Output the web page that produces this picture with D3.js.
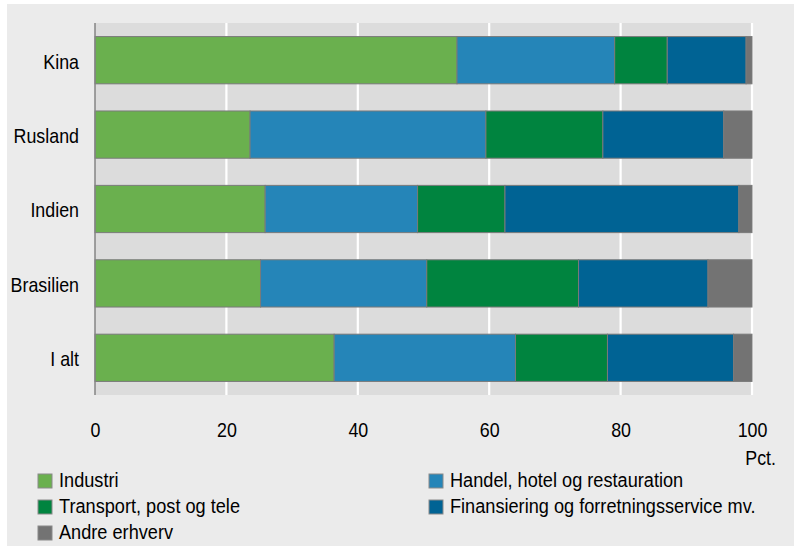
<!DOCTYPE html>
<html><head><meta charset="utf-8">
<script src="https://cdn.jsdelivr.net/npm/d3@7"></script>
<style>
html,body{margin:0;padding:0;background:#fff;}
svg text{font-family:"Liberation Sans",Arial,sans-serif;fill:#000;}
</style></head>
<body>
<svg id="chart" width="798" height="546"></svg>
<script>
const categories = ["Kina", "Rusland", "Indien", "Brasilien", "I alt"];
const seriesNames = ["Industri", "Handel, hotel og restauration", "Transport, post og tele", "Finansiering og forretningsservice mv.", "Andre erhverv"];
const industri   = [55.1, 23.6, 25.9, 25.2, 36.4];
const handel     = [24.0, 35.9, 23.2, 25.3, 27.6];
const transport  = [8.0, 17.8, 13.3, 23.1, 14.0];
const finans     = [12.0, 18.4, 35.6, 19.7, 19.2];
const andre      = [0.9, 4.3, 2.0, 6.7, 2.8];
const xTicks = [0, 20, 40, 60, 80, 100];
const colors = ["#6AB04E", "#2585B8", "#00843F", "#006394", "#737373"];

(function () {
const FS = 21;
function condense(sel, xPos, s) {
  sel.attr("font-size", FS).attr("transform", `scale(${s},1)`).attr("x", xPos / s);
}

const seriesValues = [industri, handel, transport, finans, andre];
const rows = categories.map((c, i) => {
  const r = {cat: c};
  seriesNames.forEach((s, j) => r[s] = seriesValues[j][i]);
  return r;
});

const svg = d3.select("#chart");
svg.append("rect").attr("x", 7).attr("y", 4).attr("width", 787).attr("height", 542).attr("fill", "#ebebeb");

const pl = 95, pr = 752, pt = 23, pb = 395;
const x = d3.scaleLinear().domain([0, 100]).range([pl, pr]);
const y = d3.scaleBand().domain(categories).range([pt, pb]).paddingInner(0.365).paddingOuter(0.1825);

svg.append("rect").attr("x", pl).attr("y", pt).attr("width", pr - pl).attr("height", pb - pt).attr("fill", "#dcdcdc");

svg.append("g").selectAll("line").data(xTicks.filter(d => d > 0)).join("line")
  .attr("x1", d => x(d)).attr("x2", d => x(d)).attr("y1", pt).attr("y2", pb)
  .attr("stroke", "#ffffff").attr("stroke-width", 2.2);

const stack = d3.stack().keys(seriesNames)(rows);
svg.append("g").selectAll("g").data(stack).join("g")
  .attr("fill", (d, i) => colors[i])
  .selectAll("rect").data(d => d).join("rect")
  .attr("x", d => x(d[0])).attr("width", d => x(d[1]) - x(d[0]))
  .attr("y", d => y(d.data.cat)).attr("height", y.bandwidth())
  .attr("stroke", "#7a7a7a").attr("stroke-width", 1);

svg.append("line").attr("x1", pl).attr("x2", pl).attr("y1", pt).attr("y2", pb)
  .attr("stroke", "#858585").attr("stroke-width", 1.5);

const yAxis = d3.axisLeft(y).tickSize(0).tickPadding(16);
const gy = svg.append("g").attr("transform", `translate(${pl},0)`).call(yAxis);
gy.select(".domain").remove();
gy.attr("font-family", null);
gy.selectAll("text").call(condense, -16, 0.85).attr("dy", "0.4em").attr("fill", "#000");

const xAxis = d3.axisBottom(x).tickValues(xTicks).tickSize(0).tickPadding(0).tickFormat(d3.format("d"));
const gx = svg.append("g").attr("transform", `translate(0,${pb})`).call(xAxis);
gx.select(".domain").remove();
gx.attr("font-family", null);
gx.selectAll("text").call(condense, 0, 0.85).attr("dy", null).attr("y", 42).attr("fill", "#000");

svg.append("g").attr("transform", "translate(776,465)")
  .append("text").attr("y", 0).attr("text-anchor", "end").text("Pct.").call(condense, 0, 0.85);

const legendPos = [
  {x: 38, y: 487}, {x: 429, y: 487},
  {x: 38, y: 513}, {x: 429, y: 513},
  {x: 38, y: 539}
];
const lg = svg.append("g").selectAll("g").data(seriesNames).join("g")
  .attr("transform", (d, i) => `translate(${legendPos[i].x},${legendPos[i].y})`);
lg.append("rect").attr("x", 0).attr("y", -13).attr("width", 14).attr("height", 14)
  .attr("fill", (d, i) => colors[i]).attr("stroke", "#8a8a8a").attr("stroke-width", 1);
lg.append("text").attr("y", 0).text(d => d).call(condense, 21, 0.865);
})();
</script>
</body></html>
